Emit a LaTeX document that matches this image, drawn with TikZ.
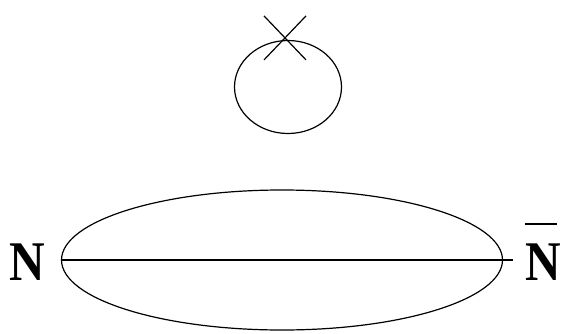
\documentclass[tikz,border=0pt]{standalone}
\usepackage{fontspec}
\newfontfamily\labelfont{Liberation Serif}
\usetikzlibrary{shapes.geometric,calc}
\begin{document}
\begin{tikzpicture}[x=1pt,y=1pt,line width=1.2pt,
    particle/.style={font=\labelfont\bfseries\fontsize{56}{56}\selectfont, anchor=base, inner sep=0pt}]
    \useasboundingbox (0,0) rectangle (564,333);
    % Tadpole on top
    \node[ellipse, draw, minimum width=107, minimum height=93, inner sep=0pt] (bubble) at (288,246) {};
    \coordinate (vtx) at ($(bubble.north)+(-3,2)$);
    \draw ($(vtx)+(-21,22)$) -- ($(vtx)+(21,-22)$);
    \draw ($(vtx)+(21,22)$) -- ($(vtx)+(-21,-22)$);

    % Big loop with the propagator through it
    \node[ellipse, draw, minimum width=441, minimum height=140, inner sep=0pt] (loop) at (282,73) {};
    \coordinate (tail) at ($(loop.east)+(10,0)$);
    \draw (loop.west) -- (tail);

    % End labels
    \node[particle, xscale=0.88] (nuc) at (27,53) {N};
    \node[particle, xscale=0.88] (antinuc) at (543,53) {\rlap{\smash{\raisebox{55pt}{\rule{36pt}{1.8pt}}}}N};
\end{tikzpicture}
\end{document}
